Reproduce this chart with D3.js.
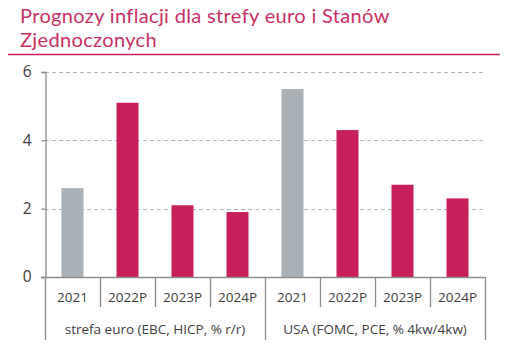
<!DOCTYPE html>
<html>
<head>
<meta charset="utf-8">
<script src="https://cdn.jsdelivr.net/npm/d3@7"></script>
<style>
  body { margin: 0; background: #fff; }
  svg { display: block; }
</style>
</head>
<body>
<svg id="chart" width="507" height="354"></svg>
<script>
// data
var groups = ['strefa euro (EBC, HICP, % r/r)', 'USA (FOMC, PCE, % 4kw/4kw)'];
var years = ['2021', '2022P', '2023P', '2024P'];
var euroValues = [2.6, 5.1, 2.1, 1.9];
var usaValues = [5.5, 4.3, 2.7, 2.3];
var yTicks = [0, 2, 4, 6];
var titleLines = ['Prognozy inflacji dla strefy euro i Stanów', 'Zjednoczonych'];

var pink = '#c71f5b',
    grey = '#a9b0b6',
    axisGrey = '#8c8c8c';

var plotLeft = 45, plotRight = 485, plotTop = 72, plotBottom = 277;

var svg = d3.select('#chart');

// flatten into one row per bar
var rows = [];
[euroValues, usaValues].forEach(function(vals, g) {
    vals.forEach(function(v, i) {
        rows.push({ key: g + '-' + years[i], group: g, year: years[i], value: v, actual: i === 0 });
    });
});

var x = d3.scaleBand()
    .domain(rows.map(function(d) { return d.key; }))
    .range([plotLeft, plotRight])
    .paddingInner(0.6)
    .paddingOuter(0.3);

var step = x.step();
var gap = (step - x.bandwidth()) / 2;

var y = d3.scaleLinear().domain([0, 6]).range([plotBottom, plotTop]);

// title
svg.append('g').selectAll('text')
    .data(titleLines)
    .enter().append('text')
        .attr('x', 20)
        .attr('y', function(d, i) { return 23 + i * 24; })
        .attr('font-family', 'Lato, "Open Sans", sans-serif')
        .attr('font-size', 20)
        .attr('letter-spacing', 0.35)
        .attr('fill', '#c92f66')
        .text(function(d) { return d; });

svg.append('line')
    .attr('x1', 8).attr('x2', 500)
    .attr('y1', 54.5).attr('y2', 54.5)
    .attr('stroke', pink)
    .attr('stroke-width', 1.6);

// grid
svg.append('g').selectAll('line')
    .data(yTicks.filter(function(t) { return t > 0; }))
    .enter().append('line')
        .attr('x1', plotLeft).attr('x2', plotRight)
        .attr('y1', function(d) { return Math.round(y(d)) + 0.5; })
        .attr('y2', function(d) { return Math.round(y(d)) + 0.5; })
        .attr('stroke', '#b4b4b4')
        .attr('stroke-dasharray', '4,3');

// y axis
var yAxis = d3.axisLeft(y).tickValues(yTicks).tickSize(4).tickPadding(10).tickFormat(d3.format('d'));
var yg = svg.append('g')
    .attr('transform', 'translate(' + (plotLeft + 0.5) + ',0)')
    .call(yAxis);
yg.select('.domain').attr('stroke', axisGrey).attr('stroke-width', 1.3);
yg.selectAll('.tick line').attr('stroke', axisGrey).attr('stroke-width', 1.3);
yg.selectAll('.tick text')
    .attr('font-family', '"Open Sans", sans-serif')
    .attr('font-size', 15.5)
    .attr('fill', '#404040');

// bars
svg.append('g').selectAll('rect')
    .data(rows)
    .enter().append('rect')
        .attr('x', function(d) { return x(d.key); })
        .attr('y', function(d) { return y(d.value); })
        .attr('width', x.bandwidth())
        .attr('height', function(d) { return y(0) - y(d.value); })
        .attr('fill', function(d) { return d.actual ? grey : pink; });

// category axis
var cat = svg.append('g').attr('stroke', axisGrey).attr('stroke-width', 1.3);
cat.append('line')
    .attr('x1', plotLeft - 4).attr('x2', plotRight)
    .attr('y1', plotBottom + 0.5).attr('y2', plotBottom + 0.5);

// separators between years, longer one between the two groups
cat.selectAll('line.sep')
    .data(rows.slice(1))
    .enter().append('line')
        .attr('class', 'sep')
        .attr('x1', function(d) { return Math.round(x(d.key) - gap) + 0.5; })
        .attr('x2', function(d) { return Math.round(x(d.key) - gap) + 0.5; })
        .attr('y1', plotBottom)
        .attr('y2', function(d, i) { return (i === 3) ? 340 : 307; });

// outer edges
cat.selectAll('line.edge')
    .data([plotLeft + 0.5, plotRight + 0.5])
    .enter().append('line')
        .attr('class', 'edge')
        .attr('x1', function(d) { return d; })
        .attr('x2', function(d) { return d; })
        .attr('y1', plotBottom)
        .attr('y2', 340);

svg.append('g').selectAll('text')
    .data(rows)
    .enter().append('text')
        .attr('x', function(d) { return x(d.key) + x.bandwidth() / 2; })
        .attr('y', 302)
        .attr('text-anchor', 'middle')
        .attr('font-family', '"Open Sans", sans-serif')
        .attr('font-size', 13.5)
        .attr('fill', '#404040')
        .text(function(d) { return d.year; });

svg.append('g').selectAll('text')
    .data(groups)
    .enter().append('text')
        .attr('x', function(d, i) { return plotLeft + step * 4 * (i + 0.5); })
        .attr('y', 334)
        .attr('text-anchor', 'middle')
        .attr('font-family', '"Open Sans", sans-serif')
        .attr('font-size', 13.5)
        .attr('fill', '#404040')
        .text(function(d) { return d; });
</script>
</body>
</html>
